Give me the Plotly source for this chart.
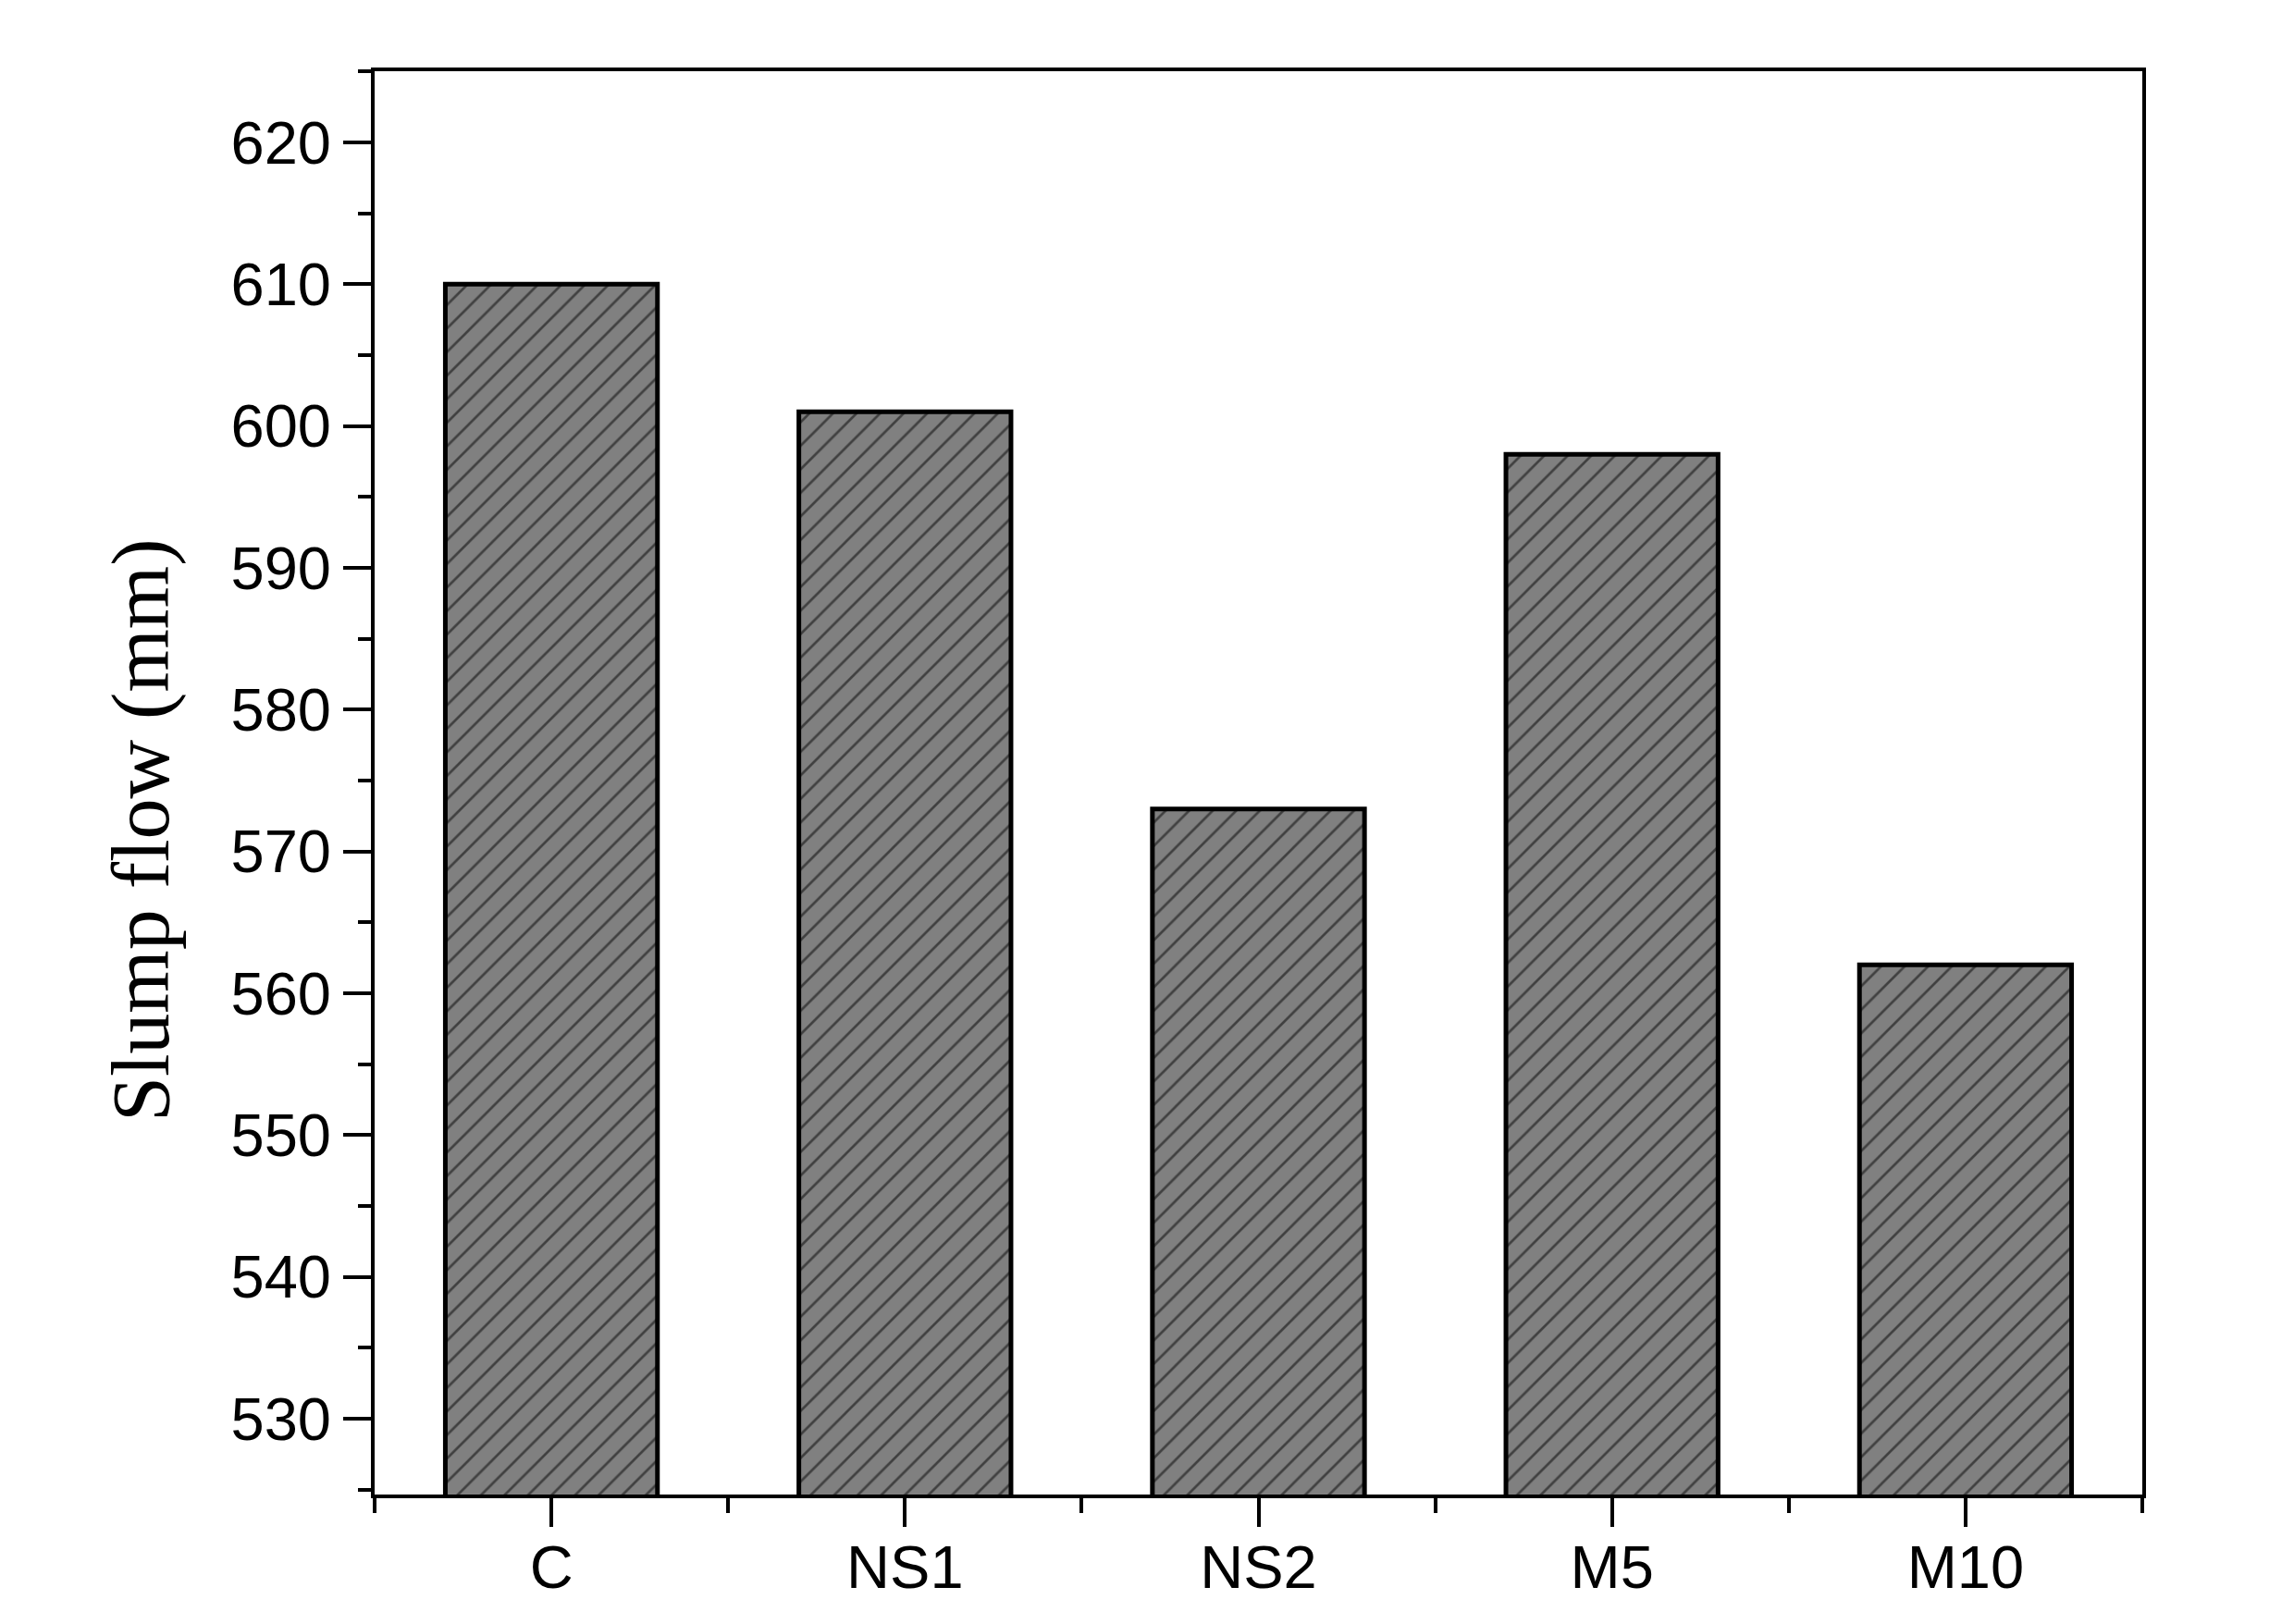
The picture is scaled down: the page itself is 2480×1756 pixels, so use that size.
import plotly.graph_objects as go

categories = ["C", "NS1", "NS2", "M5", "M10"]
slump_flow = [610, 601, 573, 598, 562]
y_title = "Slump flow (mm)"

positions = list(range(len(categories)))

fig = go.Figure()
fig.add_trace(go.Bar(
    x=positions,
    y=slump_flow,
    width=0.6,
    base=0,
    marker=dict(
        color="#808080",
        line=dict(color="black", width=5),
        pattern=dict(shape="/", bgcolor="#808080", fgcolor="black",
                     size=18, solidity=0.15, fillmode="overlay"),
    ),
    showlegend=False,
))

axis_font = dict(family="Liberation Sans, Arial, sans-serif", size=65, color="black")

fig.update_layout(
    width=2480, height=1756,
    margin=dict(l=397, r=172, t=69, b=148),
    paper_bgcolor="white", plot_bgcolor="white",
    bargap=0.4,
    xaxis=dict(
        range=[-0.5, len(categories) - 0.5],
        tickmode="array", tickvals=positions, ticktext=categories,
        ticks="outside", ticklen=31, tickwidth=4, tickcolor="black",
        showline=True, linecolor="black", linewidth=4, mirror=True,
        showgrid=False, zeroline=False,
        tickfont=axis_font,
        ticklabelstandoff=-12,
        minor=dict(tickmode="linear", tick0=0.5, dtick=1, ticks="outside",
                   ticklen=16, tickwidth=4, tickcolor="black", showgrid=False),
    ),
    yaxis=dict(
        range=[524.65, 625.02],
        tickmode="linear", tick0=0, dtick=10,
        ticks="outside", ticklen=30, tickwidth=4, tickcolor="black",
        showline=True, linecolor="black", linewidth=4, mirror=True,
        showgrid=False, zeroline=False,
        tickfont=axis_font,
        minor=dict(tickmode="linear", tick0=0, dtick=5, ticks="outside",
                   ticklen=14, tickwidth=4, tickcolor="black", showgrid=False),
    ),
    annotations=[dict(
        text=y_title, textangle=-90,
        xref="paper", yref="paper", x=-0.132, y=0.467,
        xanchor="center", yanchor="middle", showarrow=False,
        font=dict(family="Liberation Serif, Times New Roman, serif", size=88, color="black"),
    )],
)

fig.write_html("out.html")
